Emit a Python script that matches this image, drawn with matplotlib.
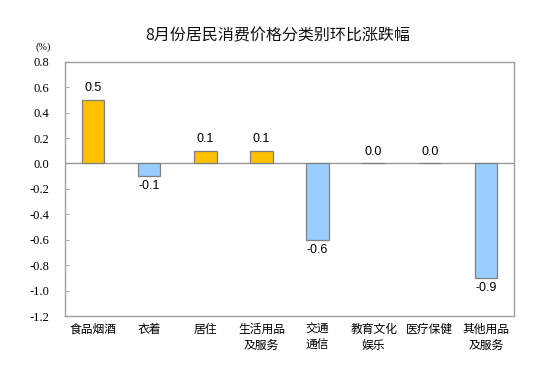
import matplotlib.pyplot as plt

plt.rcParams['font.family'] = ['Noto Sans CJK SC', 'DejaVu Sans']

# =====================================
# Data
# =====================================

categories = ["食品烟酒", "衣着", "居住", "生活用品\n及服务", "交通\n通信",
              "教育文化\n娱乐", "医疗保健", "其他用品\n及服务"]
values = [0.5, -0.1, 0.1, 0.1, -0.6, 0.0, 0.0, -0.9]
yticks = [0.8, 0.6, 0.4, 0.2, 0.0, -0.2, -0.4, -0.6, -0.8, -1.0, -1.2]

colors = ["#FFC000" if v >= 0 else "#99CCFF" for v in values]

# =====================================
# Figure
# =====================================

fig = plt.figure(figsize=(5.49, 3.81), dpi=100)
ax = fig.add_axes([0.1184, 0.1706, 0.8178, 0.6674])

x = list(range(len(categories)))
ax.bar(x, values, width=0.4, color=colors, edgecolor="#7f7f7f", linewidth=0.9, zorder=3)
ax.axhline(0, color="#909090", linewidth=0.9, zorder=2)

for xi, v in zip(x, values):
    if v >= 0:
        ax.annotate(f"{v:.1f}", (xi, v), xytext=(0, 4), textcoords="offset points",
                    ha="center", va="bottom", fontsize=9, family="Liberation Sans")
    else:
        ax.annotate(f"{v:.1f}", (xi, v), xytext=(0, -3), textcoords="offset points",
                    ha="center", va="top", fontsize=9, family="Liberation Sans")

ax.set_xlim(-0.5, len(categories) - 0.5)
ax.set_ylim(-1.2, 0.8)
ax.set_yticks(yticks)
ax.set_yticklabels([f"{t:.1f}" for t in yticks])
ax.tick_params(axis="y", direction="in", length=3, pad=11, color="#b0b0b0",
               labelsize=9, labelfontfamily="Liberation Serif")

ax.set_xticks(x)
ax.set_xticklabels(categories, fontsize=8.5, linespacing=1.3)
ax.tick_params(axis="x", length=0, pad=5)

for s in ax.spines.values():
    s.set_color("#a0a0a0")
    s.set_linewidth(1.0)

fig.text(0.064, 0.876, "(%)", family="Liberation Serif", fontsize=7.5, ha="left", va="center")
fig.text(0.505, 0.905, "8月份居民消费价格分类别环比涨跌幅", fontsize=11.5,
         ha="center", va="center", color="#111111")

fig.savefig("out.png", dpi=100)
